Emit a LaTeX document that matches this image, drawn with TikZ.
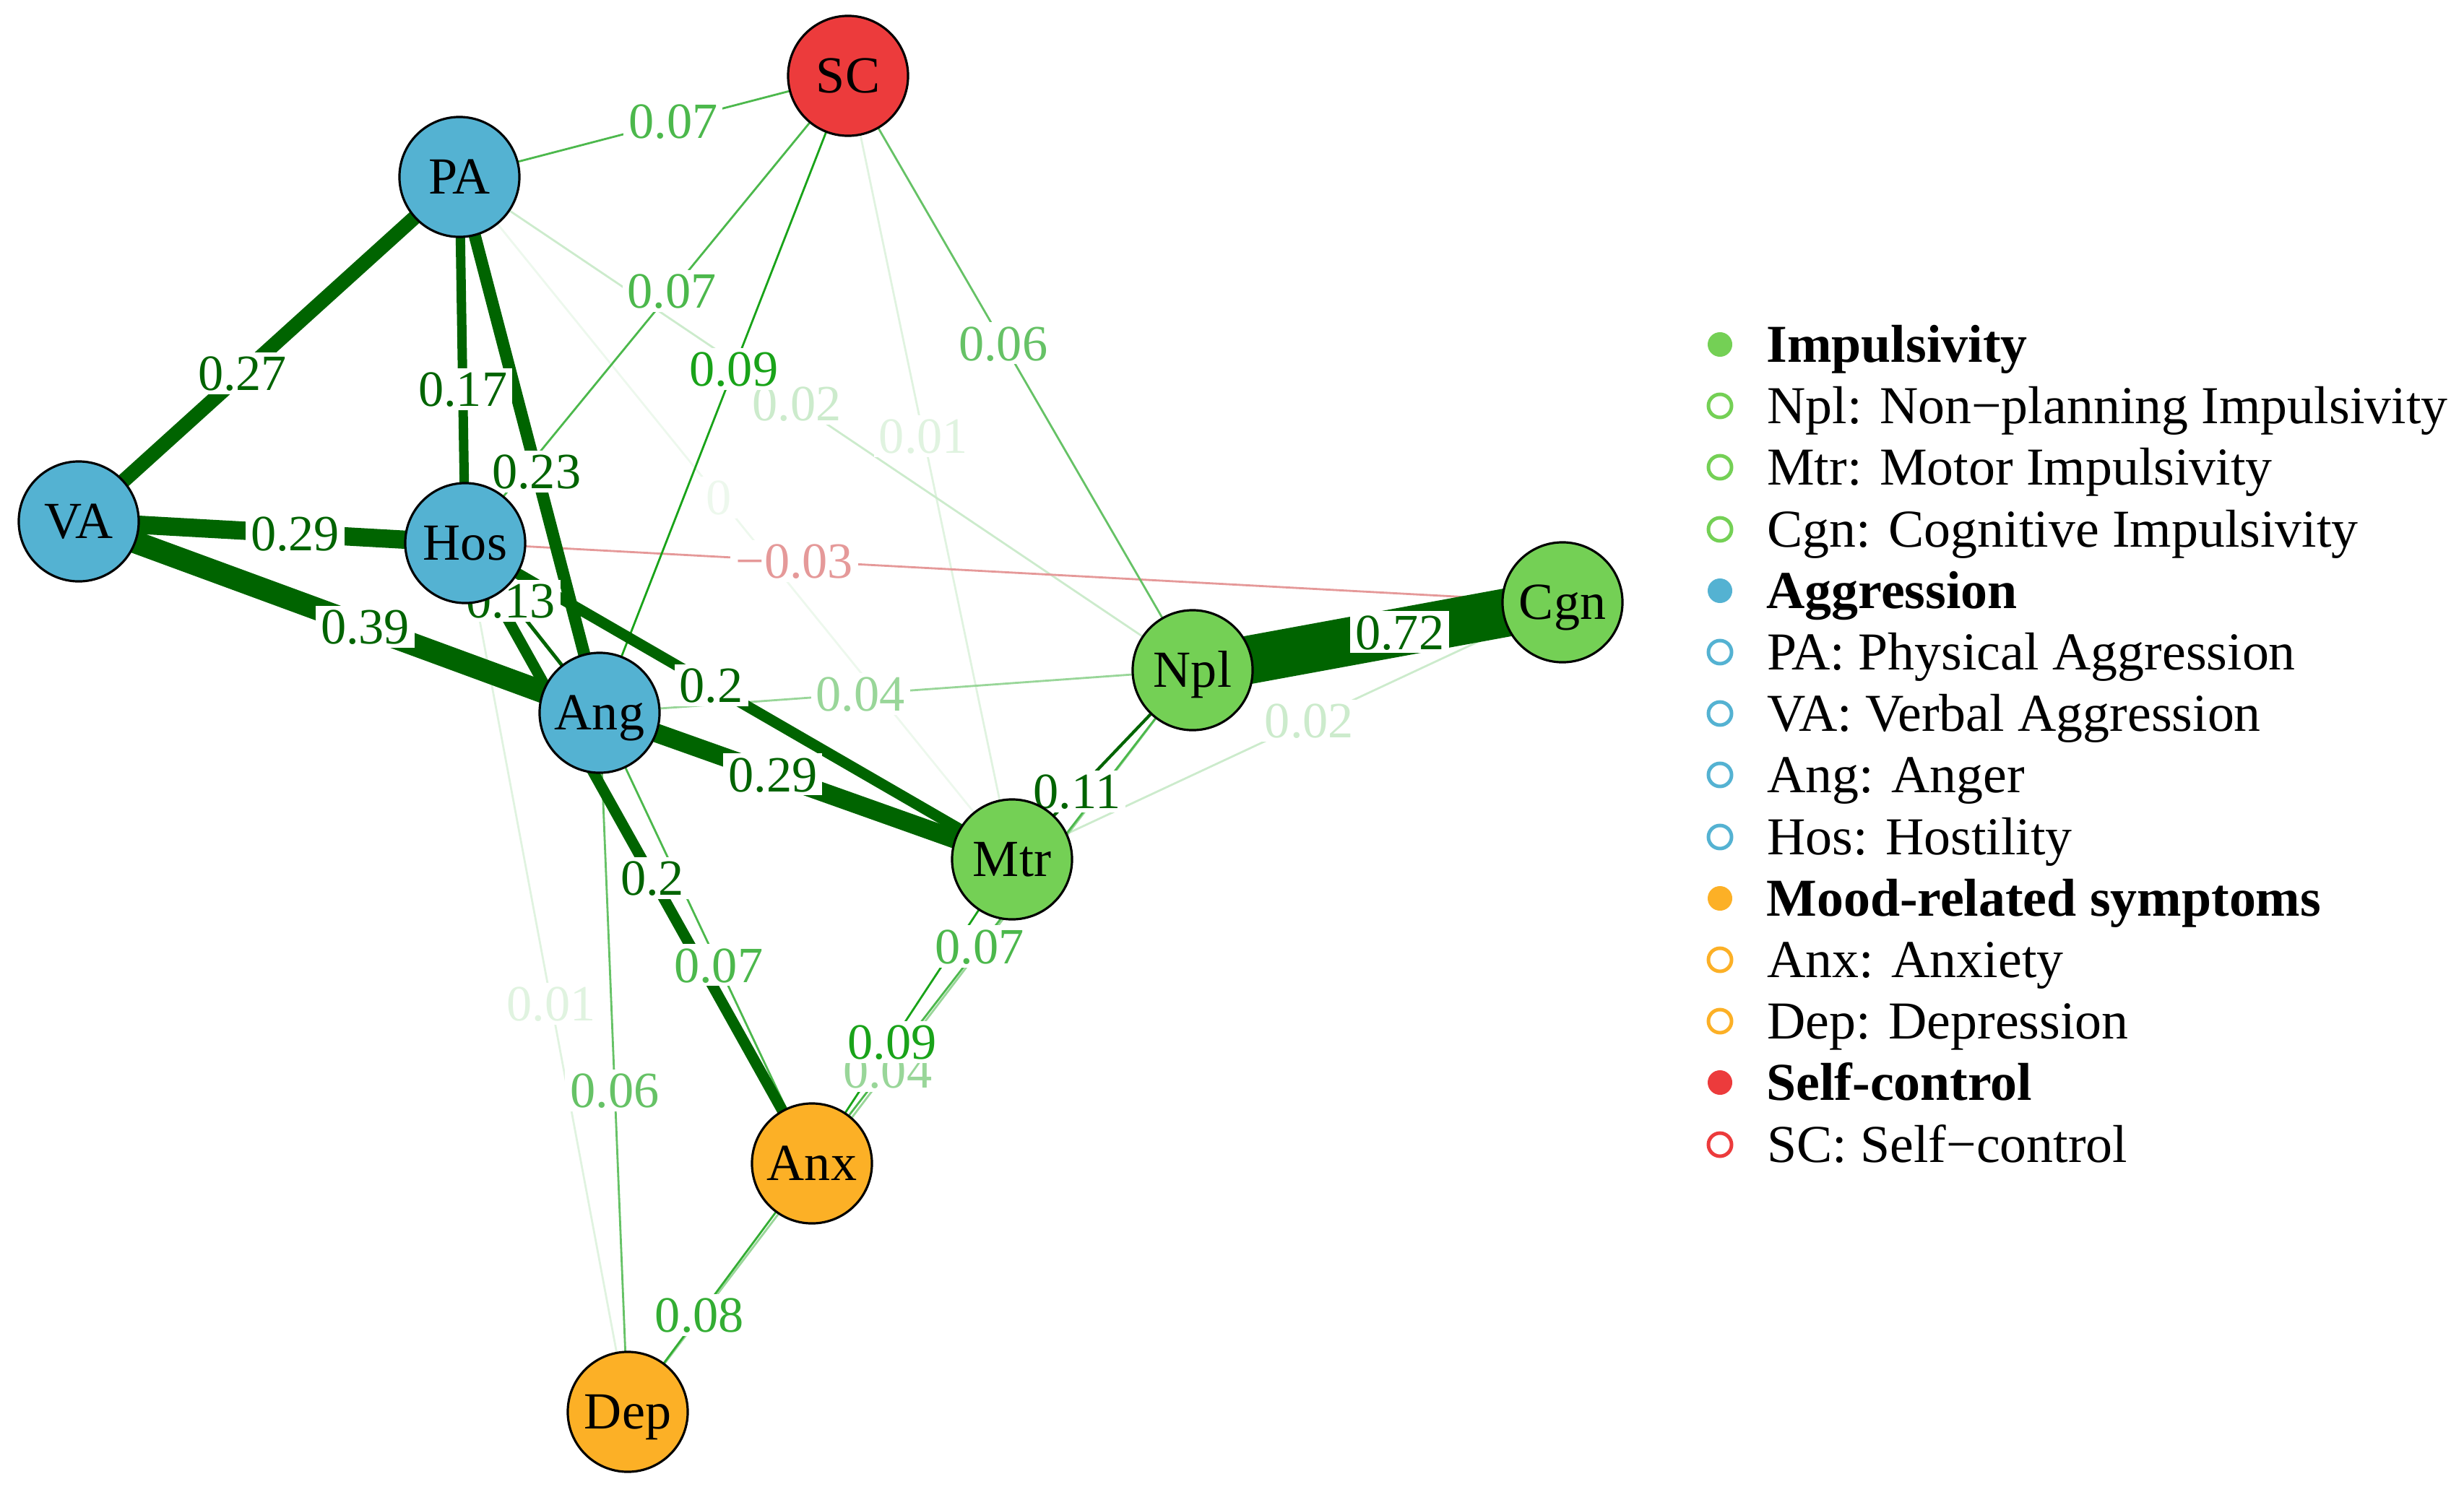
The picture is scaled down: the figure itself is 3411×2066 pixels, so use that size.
\documentclass[tikz,border=0pt]{standalone}
\usepackage{fontspec}
\setmainfont{Liberation Serif}
\usetikzlibrary{positioning}

\definecolor{impulse}{RGB}{116,208,85}
\definecolor{aggress}{RGB}{84,178,210}
\definecolor{mood}{RGB}{252,176,38}
\definecolor{selfctl}{RGB}{236,59,60}
\definecolor{posdark}{RGB}{0,100,0}
\definecolor{poslight}{RGB}{0,153,0}
\definecolor{negred}{RGB}{191,0,0}

\pgfdeclarelayer{edges}
\pgfdeclarelayer{labels}
\pgfsetlayers{edges,labels,main}

\begin{document}
\begin{tikzpicture}[x=0.01cm,y=-0.01cm,
  var/.style={circle,draw=black,line width=0.9pt,minimum size=1.66cm,inner sep=0pt,
    font=\fontsize{20.5}{24}\selectfont,text height=13.5pt,text depth=0pt},
  wt/.style={fill=white,inner xsep=2pt,inner ysep=1.5pt,
    font=\fontsize{20}{24}\selectfont,text height=13.5pt,text depth=0pt},
  weak/.style={line width=0.8pt},
  strong/.style={draw=posdark},
  group/.style={circle,inner sep=0pt,minimum size=0.34cm},
  item/.style={circle,draw,inner sep=0pt,minimum size=0.32cm,line width=1.4pt},
  legtext/.style={inner sep=0pt,font=\fontsize{21}{25}\selectfont,text height=13.9pt,text depth=0pt}
]
\useasboundingbox (0,0) rectangle (3411,2066);

% nodes
\node[var,fill=selfctl] (SC) at (1174,105) {SC};
\node[var,fill=aggress] (PA) at (636,245) {PA};
\node[var,fill=aggress] (VA) at (109,722) {VA};
\node[var,fill=aggress] (Hos) at (644,752) {Hos};
\node[var,fill=aggress] (Ang) at (830,987) {Ang};
\node[var,fill=impulse] (Npl) at (1651,928) {Npl};
\node[var,fill=impulse] (Cgn) at (2163,834) {Cgn};
\node[var,fill=impulse] (Mtr) at (1401,1190) {Mtr};
\node[var,fill=mood] (Anx) at (1124,1611) {Anx};
\node[var,fill=mood] (Dep) at (869,1955) {Dep};

\begin{pgfonlayer}{edges}
\draw[weak,draw=poslight!7] (PA.center) -- (Mtr.center);
\draw[weak,draw=poslight!12] (Hos.center) -- (Dep.center);
\draw[weak,draw=poslight!12] (SC.center) -- (Mtr.center);
\draw[weak,draw=poslight!20] (PA.center) -- (Npl.center);
\draw[weak,draw=poslight!20] (Mtr.center) -- (Cgn.center);
\draw[weak,draw=negred!40] (Hos.center) -- (Cgn.center);
\draw[weak,draw=poslight!40] (Ang.center) -- (Npl.center);
\draw[weak,draw=poslight!40] (Dep.center) -- (Npl.center);
\draw[weak,draw=poslight!60] (SC.center) -- (Npl.center);
\draw[weak,draw=poslight!60] (Ang.center) -- (Dep.center);
\draw[weak,draw=poslight!70] (PA.center) -- (SC.center);
\draw[weak,draw=poslight!70] (Hos.center) -- (SC.center);
\draw[weak,draw=poslight!70] (Ang.center) -- (Anx.center);
\draw[weak,draw=poslight!70] (Anx.center) -- (Npl.center);
\draw[weak,draw=poslight!80] (Dep.center) -- (Anx.center);
\draw[weak,draw=poslight!90] (SC.center) -- (Ang.center);
\draw[weak,draw=poslight!90] (Anx.center) -- (Mtr.center);
\draw[strong,line width=1.2pt] (Npl.center) -- (Mtr.center);
\draw[strong,line width=1.4pt] (Hos.center) -- (Ang.center);
\draw[strong,line width=3.7pt] (PA.center) -- (Hos.center);
\draw[strong,line width=4.3pt] (Hos.center) -- (Mtr.center);
\draw[strong,line width=4.3pt] (Hos.center) -- (Anx.center);
\draw[strong,line width=4.8pt] (PA.center) -- (Ang.center);
\draw[strong,line width=5.7pt] (PA.center) -- (VA.center);
\draw[strong,line width=7.2pt] (VA.center) -- (Hos.center);
\draw[strong,line width=7.4pt] (Ang.center) -- (Mtr.center);
\draw[strong,line width=8.8pt] (VA.center) -- (Ang.center);
\draw[strong,line width=19pt] (Npl.center) -- (Cgn.center);
\end{pgfonlayer} % <- end edges

\begin{pgfonlayer}{labels}
\path (PA.center) -- node[wt,text=poslight!7,pos=.47] {0} (Mtr.center);
\path (Hos.center) -- node[wt,text=poslight!12,pos=.53] {0.01} (Dep.center);
\path (SC.center) -- node[wt,text=poslight!12,pos=.46] {0.01} (Mtr.center);
\path (PA.center) -- node[wt,text=poslight!20,pos=.46] {0.02} (Npl.center);
\path (Mtr.center) -- node[wt,text=poslight!20,pos=.54] {0.02} (Cgn.center);
\path (Hos.center) -- node[wt,text=negred!40,pos=.30] {−0.03} (Cgn.center);
\path (Ang.center) -- node[wt,text=poslight!40,pos=.44] {0.04} (Npl.center);
\path (Dep.center) -- node[wt,text=poslight!40,pos=.46] {0.04} (Npl.center);
\path (SC.center) -- node[wt,text=poslight!60,pos=.45] {0.06} (Npl.center);
\path (Ang.center) -- node[wt,text=poslight!60,pos=.54] {0.06} (Dep.center);
\path (PA.center) -- node[wt,text=poslight!70,pos=.55] {0.07} (SC.center);
\path (Hos.center) -- node[wt,text=poslight!70,pos=.54] {0.07} (SC.center);
\path (Ang.center) -- node[wt,text=poslight!70,pos=.56] {0.07} (Anx.center);
\path (Anx.center) -- node[wt,text=poslight!70,pos=.44] {0.07} (Npl.center);
\path (Dep.center) -- node[wt,text=poslight!80,pos=.39] {0.08} (Anx.center);
\path (SC.center) -- node[wt,text=poslight!90,pos=.46] {0.09} (Ang.center);
\path (Anx.center) -- node[wt,text=poslight!90,pos=.40] {0.09} (Mtr.center);
\path (Npl.center) -- node[wt,text=posdark,pos=.64] {0.11} (Mtr.center);
\path (Hos.center) -- node[wt,text=posdark,pos=.34] {0.13} (Ang.center);
\path (PA.center) -- node[wt,text=posdark,pos=.58] {0.17} (Hos.center);
\path (Hos.center) -- node[wt,text=posdark,pos=.45] {0.2} (Mtr.center);
\path (Hos.center) -- node[wt,text=posdark,pos=.54] {0.2} (Anx.center);
\path (PA.center) -- node[wt,text=posdark,pos=.55] {0.23} (Ang.center);
\path (PA.center) -- node[wt,text=posdark,pos=.57] {0.27} (VA.center);
\path (VA.center) -- node[wt,text=posdark,pos=.56] {0.29} (Hos.center);
\path (Ang.center) -- node[wt,text=posdark,pos=.42] {0.29} (Mtr.center);
\path (VA.center) -- node[wt,text=posdark,pos=.55] {0.39} (Ang.center);
\path (Npl.center) -- node[wt,text=posdark,pos=.56] {0.72} (Cgn.center);
\end{pgfonlayer} % <- end labels

% legend
\node[group,fill=impulse] (Limp) at (2381,477) {};
\node[legtext,right=0.46cm of Limp] {\textbf{Impulsivity}};
\node[item,draw=impulse] (Lnpl) at (2381,562) {};
\node[legtext,right=0.46cm of Lnpl] {Npl: Non−planning Impulsivity};
\node[item,draw=impulse] (Lmtr) at (2381,647) {};
\node[legtext,right=0.46cm of Lmtr] {Mtr: Motor Impulsivity};
\node[item,draw=impulse] (Lcgn) at (2381,733) {};
\node[legtext,right=0.46cm of Lcgn] {Cgn: Cognitive Impulsivity};
\node[group,fill=aggress] (Lagg) at (2381,818) {};
\node[legtext,right=0.46cm of Lagg] {\textbf{Aggression}};
\node[item,draw=aggress] (Lpa) at (2381,903) {};
\node[legtext,right=0.46cm of Lpa] {PA: Physical Aggression};
\node[item,draw=aggress] (Lva) at (2381,988) {};
\node[legtext,right=0.46cm of Lva] {VA: Verbal Aggression};
\node[item,draw=aggress] (Lang) at (2381,1073) {};
\node[legtext,right=0.46cm of Lang] {Ang: Anger};
\node[item,draw=aggress] (Lhos) at (2381,1159) {};
\node[legtext,right=0.46cm of Lhos] {Hos: Hostility};
\node[group,fill=mood] (Lmood) at (2381,1244) {};
\node[legtext,right=0.46cm of Lmood] {\textbf{Mood-related symptoms}};
\node[item,draw=mood] (Lanx) at (2381,1329) {};
\node[legtext,right=0.46cm of Lanx] {Anx: Anxiety};
\node[item,draw=mood] (Ldep) at (2381,1414) {};
\node[legtext,right=0.46cm of Ldep] {Dep: Depression};
\node[group,fill=selfctl] (Lself) at (2381,1499) {};
\node[legtext,right=0.46cm of Lself] {\textbf{Self-control}};
\node[item,draw=selfctl] (Lsc) at (2381,1585) {};
\node[legtext,right=0.46cm of Lsc] {SC: Self−control};
\end{tikzpicture}
\end{document}
